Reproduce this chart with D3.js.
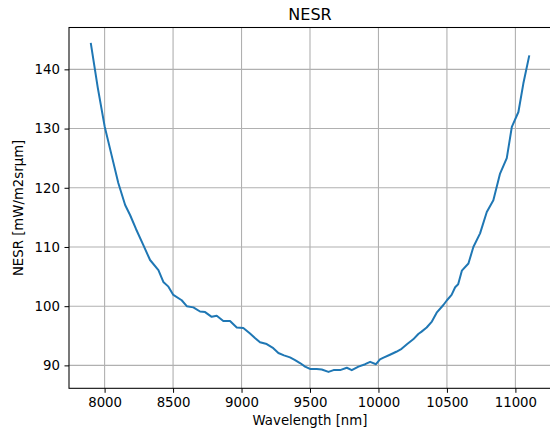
<!DOCTYPE html>
<html>
<head>
<meta charset="utf-8">
<script src="https://cdn.jsdelivr.net/npm/d3@7"></script>
<style>
  html, body { margin: 0; padding: 0; background: #fff; }
  svg { display: block; font-family: "DejaVu Sans", sans-serif; }
</style>
</head>
<body>
<script>
const title = "NESR";
const xLabel = "Wavelength [nm]";
const yLabel = "NESR [mW/m2srμm]";
const xTicks = [8000, 8500, 9000, 9500, 10000, 10500, 11000];
const yTicks = [90, 100, 110, 120, 130, 140];

const wavelength = [
  7900, 7950, 8000, 8050, 8100, 8150, 8186, 8230, 8283, 8332, 8393, 8429, 8466,
  8502, 8563, 8600, 8648, 8697, 8734, 8782, 8819, 8867, 8916, 8965, 9013, 9062,
  9100, 9135, 9184, 9232, 9269, 9310, 9354, 9391, 9427, 9464, 9500, 9549, 9586,
  9635, 9672, 9720, 9769, 9805, 9854, 9903, 9939, 9982, 10011, 10037, 10084,
  10130, 10169, 10210, 10254, 10291, 10315, 10352, 10390, 10425, 10474, 10500,
  10534, 10560, 10582, 10609, 10657, 10693, 10742, 10791, 10839, 10888, 10937,
  10974, 11022, 11058, 11100
];
const nesr = [
  144.3, 136.9, 130.4, 125.6, 120.8, 117.1, 115.4, 113.0, 110.3, 107.8, 106.1, 104.1, 103.3,
  101.9, 101.0, 100.0, 99.8, 99.1, 99.0, 98.2, 98.4, 97.5, 97.5, 96.4, 96.3, 95.4,
  94.6, 93.9, 93.6, 92.9, 92.1, 91.7, 91.35, 90.9, 90.4, 89.8, 89.4, 89.4, 89.3,
  88.9, 89.2, 89.2, 89.6, 89.2, 89.8, 90.2, 90.6, 90.2, 91.0, 91.3, 91.8,
  92.3, 92.8, 93.6, 94.4, 95.3, 95.7, 96.4, 97.4, 98.9, 100.2, 101.0,
  101.9, 103.2, 103.7, 106.0, 107.2, 110.0, 112.3, 115.9, 117.9, 122.4, 125.0,
  130.3, 132.8, 137.6, 142.2
];

const W = 550, H = 433;
const box = { left: 69, right: 551, top: 27.5, bottom: 388.3 };

const xExt = d3.extent(wavelength), yExt = d3.extent(nesr);
const xPad = (xExt[1] - xExt[0]) * 0.05, yPad = (yExt[1] - yExt[0]) * 0.05;
const x = d3.scaleLinear().domain([xExt[0] - xPad, xExt[1] + xPad]).range([box.left, box.right]);
const y = d3.scaleLinear().domain([yExt[0] - yPad, yExt[1] + yPad]).range([box.bottom, box.top]);

const svg = d3.select("body").append("svg").attr("width", W).attr("height", H);
const fs = 13.3;

// grid
const grid = svg.append("g");
grid.selectAll(".gx").data(xTicks).enter().append("line")
  .attr("x1", d => x(d)).attr("x2", d => x(d))
  .attr("y1", box.top).attr("y2", box.bottom)
  .attr("stroke", "#b0b0b0").attr("stroke-width", 1.1);
grid.selectAll(".gy").data(yTicks).enter().append("line")
  .attr("x1", box.left).attr("x2", box.right)
  .attr("y1", d => y(d)).attr("y2", d => y(d))
  .attr("stroke", "#b0b0b0").attr("stroke-width", 1.1);

// line
const line = d3.line().x((d, i) => x(wavelength[i])).y(d => y(d));
svg.append("path").datum(nesr)
  .attr("d", line)
  .attr("fill", "none")
  .attr("stroke", "#1f77b4")
  .attr("stroke-width", 2)
  .attr("stroke-linejoin", "round")
  .attr("stroke-linecap", "square");

// axes
const xAxis = d3.axisBottom(x).tickValues(xTicks).tickFormat(d3.format("d")).tickSizeInner(4.5).tickSizeOuter(0).tickPadding(4.5);
const yAxis = d3.axisLeft(y).tickValues(yTicks).tickFormat(d3.format("d")).tickSizeInner(4.5).tickSizeOuter(0).tickPadding(4.5);

const gx = svg.append("g").attr("transform", `translate(0,${box.bottom})`).call(xAxis);
const gy = svg.append("g").attr("transform", `translate(${box.left},0)`).call(yAxis);
[gx, gy].forEach(g => {
  g.select(".domain").remove();
  g.selectAll(".tick line").attr("stroke", "#000").attr("stroke-width", 1);
  g.selectAll(".tick text").attr("fill", "#000").style("font-size", fs + "px").style("font-family", "DejaVu Sans");
});

// spines
const sp = svg.append("g").attr("stroke", "#000").attr("stroke-width", 1.05).attr("fill", "none");
sp.append("rect").attr("x", box.left).attr("y", box.top)
  .attr("width", box.right - box.left).attr("height", box.bottom - box.top);

// labels
svg.append("text").attr("x", (box.left + box.right) / 2).attr("y", 20)
  .attr("text-anchor", "middle").style("font-size", "16px").attr("fill", "#000").text(title);
svg.append("text").attr("x", (box.left + box.right) / 2).attr("y", 424.5)
  .attr("text-anchor", "middle").style("font-size", fs + "px").attr("fill", "#000").text(xLabel);
svg.append("text").attr("transform", `translate(23,${(box.top + box.bottom) / 2}) rotate(-90)`)
  .attr("text-anchor", "middle").style("font-size", fs + "px").attr("fill", "#000").text(yLabel);
</script>
</body>
</html>
